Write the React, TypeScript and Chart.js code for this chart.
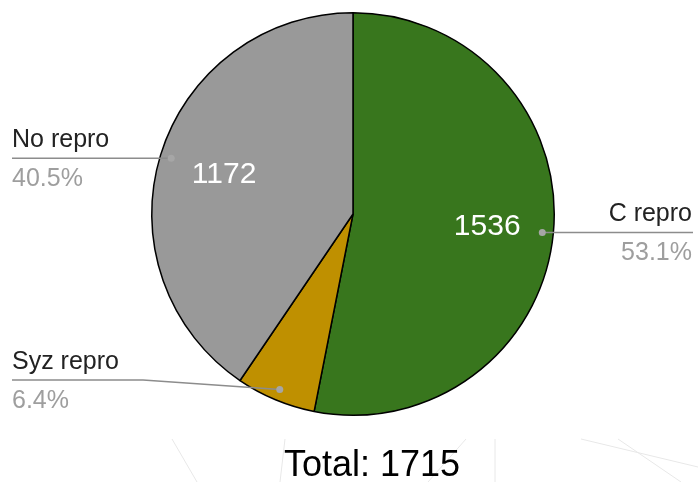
import React, { useEffect, useRef } from "react";
import { Chart, registerables } from "chart.js";

Chart.register(...registerables);

const categories = ["C repro", "Syz repro", "No repro"];
const counts = [1536, 185, 1172];
const percentLabels = ["53.1%", "6.4%", "40.5%"];
const sliceColors = ["#38761d", "#bf9000", "#999999"];
const labelSides = ["right", "left", "left"];
const totalLabel = "Total: 1715";

const FONT = "Arial, 'Liberation Sans', Helvetica, sans-serif";

const labelPlugin = {
  id: "pieLabels",
  beforeDraw(chart: any) {
    const ctx = chart.ctx;
    ctx.save();
    ctx.strokeStyle = "#e8e8e8";
    ctx.lineWidth = 1;
    const segs = [
      [172, 439, 197, 482],
      [285, 439, 280, 482],
      [466, 439, 428, 482],
      [495, 439, 495, 482],
      [618, 439, 681, 482],
      [581, 439, 698, 467],
    ];
    segs.forEach(([a, b, c, d]) => {
      ctx.beginPath();
      ctx.moveTo(a, b);
      ctx.lineTo(c, d);
      ctx.stroke();
    });
    ctx.restore();
  },
  afterDraw(chart: any) {
    const ctx = chart.ctx;
    const meta = chart.getDatasetMeta(0);
    const total = counts.reduce((s, v) => s + v, 0);
    const W = chart.width;
    ctx.save();
    meta.data.forEach((arc: any, i: number) => {
      const { x, y, startAngle, endAngle, outerRadius } = arc.getProps(
        ["x", "y", "startAngle", "endAngle", "outerRadius"],
        true
      );
      const mid = (startAngle + endAngle) / 2;
      if (counts[i] / total > 0.1) {
        const r = outerRadius * 0.67;
        ctx.fillStyle = "#ffffff";
        ctx.font = `30px ${FONT}`;
        ctx.textAlign = "center";
        ctx.textBaseline = "middle";
        ctx.fillText(String(counts[i]), x + Math.cos(mid) * r, y + Math.sin(mid) * r);
      }
      const dr = outerRadius * 0.945;
      const dx = x + Math.cos(mid) * dr;
      const dy = y + Math.sin(mid) * dr;
      const side = labelSides[i];
      const bottomLimit = chart.chartArea.bottom - 36;
      const lineY = Math.min(dy, bottomLimit);
      ctx.strokeStyle = "#8c8c8c";
      ctx.lineWidth = 1.5;
      ctx.beginPath();
      ctx.moveTo(dx, dy);
      if (side === "right") {
        ctx.lineTo(W - 5, lineY);
      } else {
        if (lineY !== dy) {
          ctx.lineTo(143, lineY);
        }
        ctx.lineTo(12, lineY);
      }
      ctx.stroke();
      ctx.fillStyle = "#a6a6a6";
      ctx.beginPath();
      ctx.arc(dx, dy, 3.5, 0, Math.PI * 2);
      ctx.fill();

      ctx.font = `25px ${FONT}`;
      ctx.textBaseline = "alphabetic";
      ctx.textAlign = side === "right" ? "right" : "left";
      const tx = side === "right" ? W - 6 : 12;
      ctx.fillStyle = "#222222";
      ctx.fillText(categories[i], tx, lineY - 11);
      ctx.fillStyle = "#9e9e9e";
      ctx.fillText(percentLabels[i], tx, lineY + 28);
    });
    ctx.fillStyle = "#000000";
    ctx.font = `36px ${FONT}`;
    ctx.textAlign = "center";
    ctx.textBaseline = "alphabetic";
    ctx.fillText(totalLabel, 372, 476);
    ctx.restore();
  },
};

export default function App() {
  const ref = useRef<HTMLCanvasElement | null>(null);
  useEffect(() => {
    if (!ref.current) return;
    const chart = new Chart(ref.current, {
      type: "pie",
      data: {
        labels: categories,
        datasets: [
          {
            data: counts,
            backgroundColor: sliceColors,
            borderColor: "#000000",
            borderWidth: 1.5,
          },
        ],
      },
      options: {
        responsive: false,
        animation: false,
        devicePixelRatio: 1,
        layout: { padding: { left: 151, right: 143, top: 12, bottom: 66 } },
        plugins: {
          legend: { display: false },
          tooltip: { enabled: false },
          title: { display: false },
        },
      },
      plugins: [labelPlugin],
    });
    return () => chart.destroy();
  }, []);
  return (
    <div style={{ position: "absolute", left: 0, top: 0, width: 698, height: 482, background: "#ffffff" }}>
      <canvas ref={ref} width={698} height={482} />
    </div>
  );
}
